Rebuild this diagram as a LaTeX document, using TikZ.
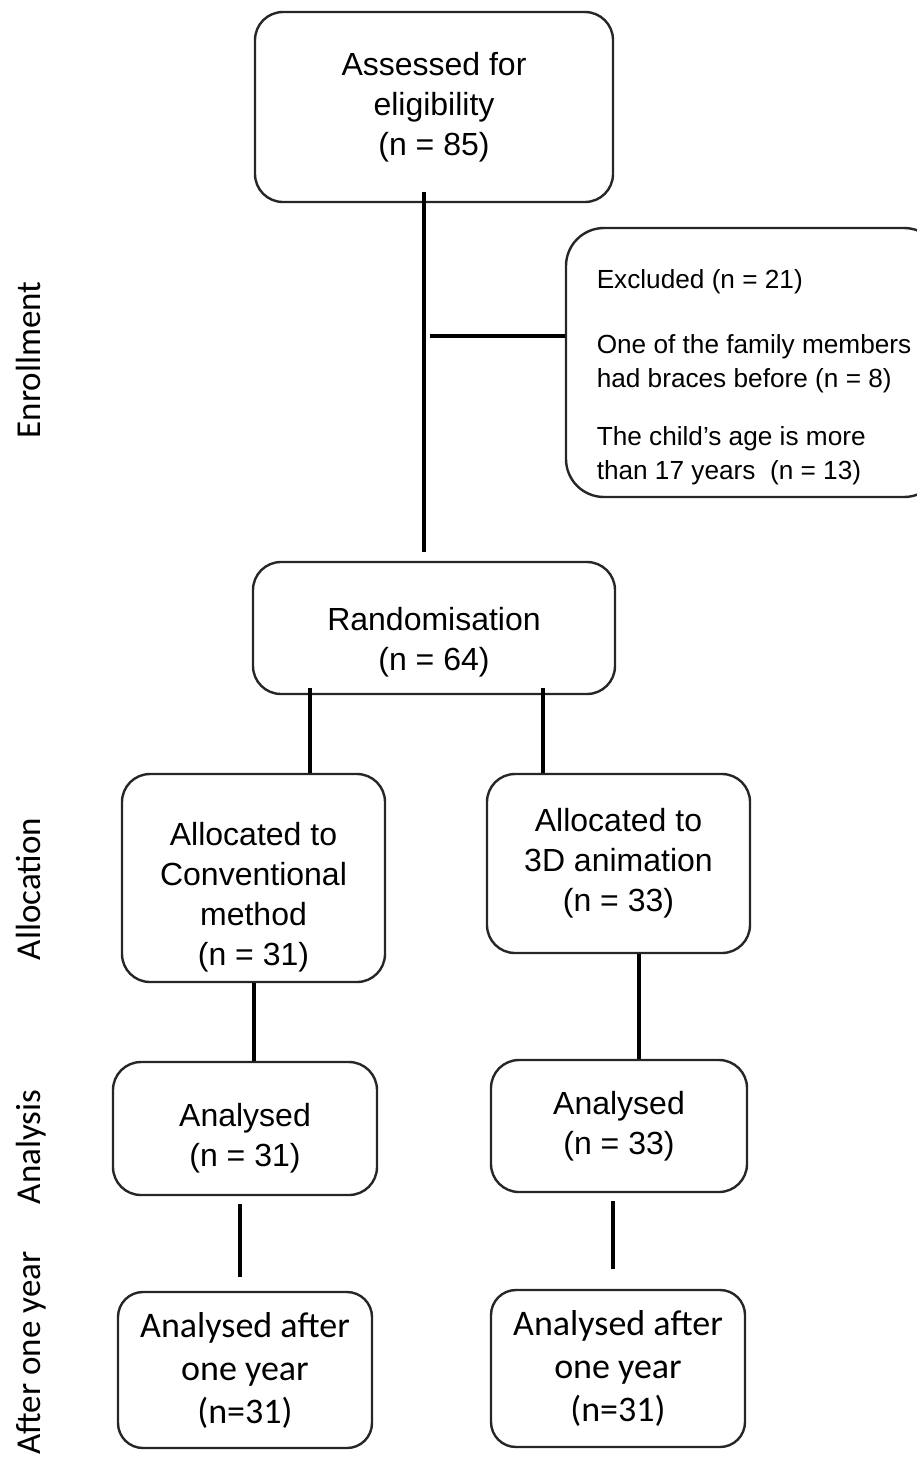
\documentclass[tikz,border=0pt]{standalone}
\usepackage{fontspec}
\setmainfont{Liberation Sans}
\newfontfamily\calibri{Carlito}
\usetikzlibrary{calc}
\colorlet{myframe}{black!85}
\def\Radius{28pt}
\newcommand{\topgap}[1]{\rule{0pt}{#1}}
\tikzset{
  every node/.style={font=\rmfamily},
  flowbox/.style={draw=myframe, line width=2.4pt, rounded corners=\Radius,
    align=center, inner sep=0pt, font=\rmfamily\fontsize{32}{40}\selectfont},
  yearbox/.style={flowbox, rounded corners=25pt, font=\calibri\fontsize{36}{43}\selectfont},
  phase/.style={rotate=90, anchor=base, font=\calibri\fontsize{35}{42}\selectfont},
  link/.style={line width=4pt, black},
}

\begin{document}
\begin{tikzpicture}[x=1pt, y=-1pt]
  \useasboundingbox (0,0) rectangle (917,1459);

  % box centres
  \coordinate (PA) at (434,107);
  \coordinate (PE) at (754,362.5);
  \coordinate (PR) at (434,628);
  \coordinate (PL1) at (253.5,878);
  \coordinate (PR1) at (618.5,863.5);
  \coordinate (PL2) at (245,1128.5);
  \coordinate (PR2) at (619,1126);
  \coordinate (PL3) at (245,1370);
  \coordinate (PR3) at (618,1368.5);

  \node[flowbox, minimum width=358pt, minimum height=190pt] (assess) at (PA)
    {Assessed for\\eligibility\\(n = 85)};

  \node[flowbox, rounded corners=38pt, minimum width=376pt, minimum height=269pt,
    align=left, font=\rmfamily\fontsize{26.2}{34}\selectfont] (excl) at (PE)
    {\topgap{48pt}Excluded (n = 21)\\[31pt]
     One of the family members\\had braces before (n = 8)\\[24pt]
     The child’s age is more\\than 17 years~~(n = 13)};

  \node[flowbox, minimum width=362pt, minimum height=132pt] (rand) at (PR)
    {\topgap{51pt}Randomisation\\(n = 64)};

  \node[flowbox, minimum width=263pt, minimum height=208pt] (alloc1) at (PL1)
    {\topgap{61pt}Allocated to\\Conventional\\method\\(n = 31)};
  \node[flowbox, minimum width=263pt, minimum height=179pt] (alloc2) at (PR1)
    {Allocated to\\3D animation\\(n = 33)};

  \node[flowbox, minimum width=264pt, minimum height=133pt] (ana1) at (PL2)
    {\topgap{43pt}Analysed\\(n = 31)};
  \node[flowbox, minimum width=256pt, minimum height=132pt] (ana2) at (PR2)
    {Analysed\\(n = 33)};

  \node[yearbox, minimum width=254pt, minimum height=156pt] (after1) at (PL3)
    {Analysed after\\one year\\(n=31)};
  \node[yearbox, minimum width=254pt, minimum height=157pt] (after2) at (PR3)
    {Analysed after\\one year\\(n=31)};

  % connectors
  \coordinate (branch) at (430,336);
  \draw[link] ($(assess.south)+(-10,-11)$) -- ($(rand.north)+(-10,-9)$);
  \draw[link] (branch) -- (branch -| excl.west);
  \draw[link] ($(rand.south)+(-124,-7)$) -- ($(rand.south |- alloc1.north)+(-124,0)$);
  \draw[link] ($(rand.south)+(109,-7)$) -- ($(rand.south |- alloc2.north)+(109,0)$);
  \draw[link] (alloc1.south) -- (alloc1.south |- ana1.north);
  \draw[link] ($(alloc2.south)+(20,0)$) -- ($(alloc2.south |- ana2.north)+(20,0)$);
  \draw[link] ($(ana1.south)+(-5,8)$) -- ($(ana1.south |- after1.north)+(-5,-14)$);
  \draw[link] ($(ana2.south)+(-6,8)$) -- ($(ana2.south |- after2.north)+(-6,-20)$);

  % phase labels
  \node[phase] (enrol) at (40,360) {Enrollment};
  \node[phase] (alloc) at (40,889) {Allocation};
  \node[phase] (anal) at (40,1147) {Analysis};
  \node[phase] (year) at (40,1353) {After one year};
\end{tikzpicture}
\end{document}
